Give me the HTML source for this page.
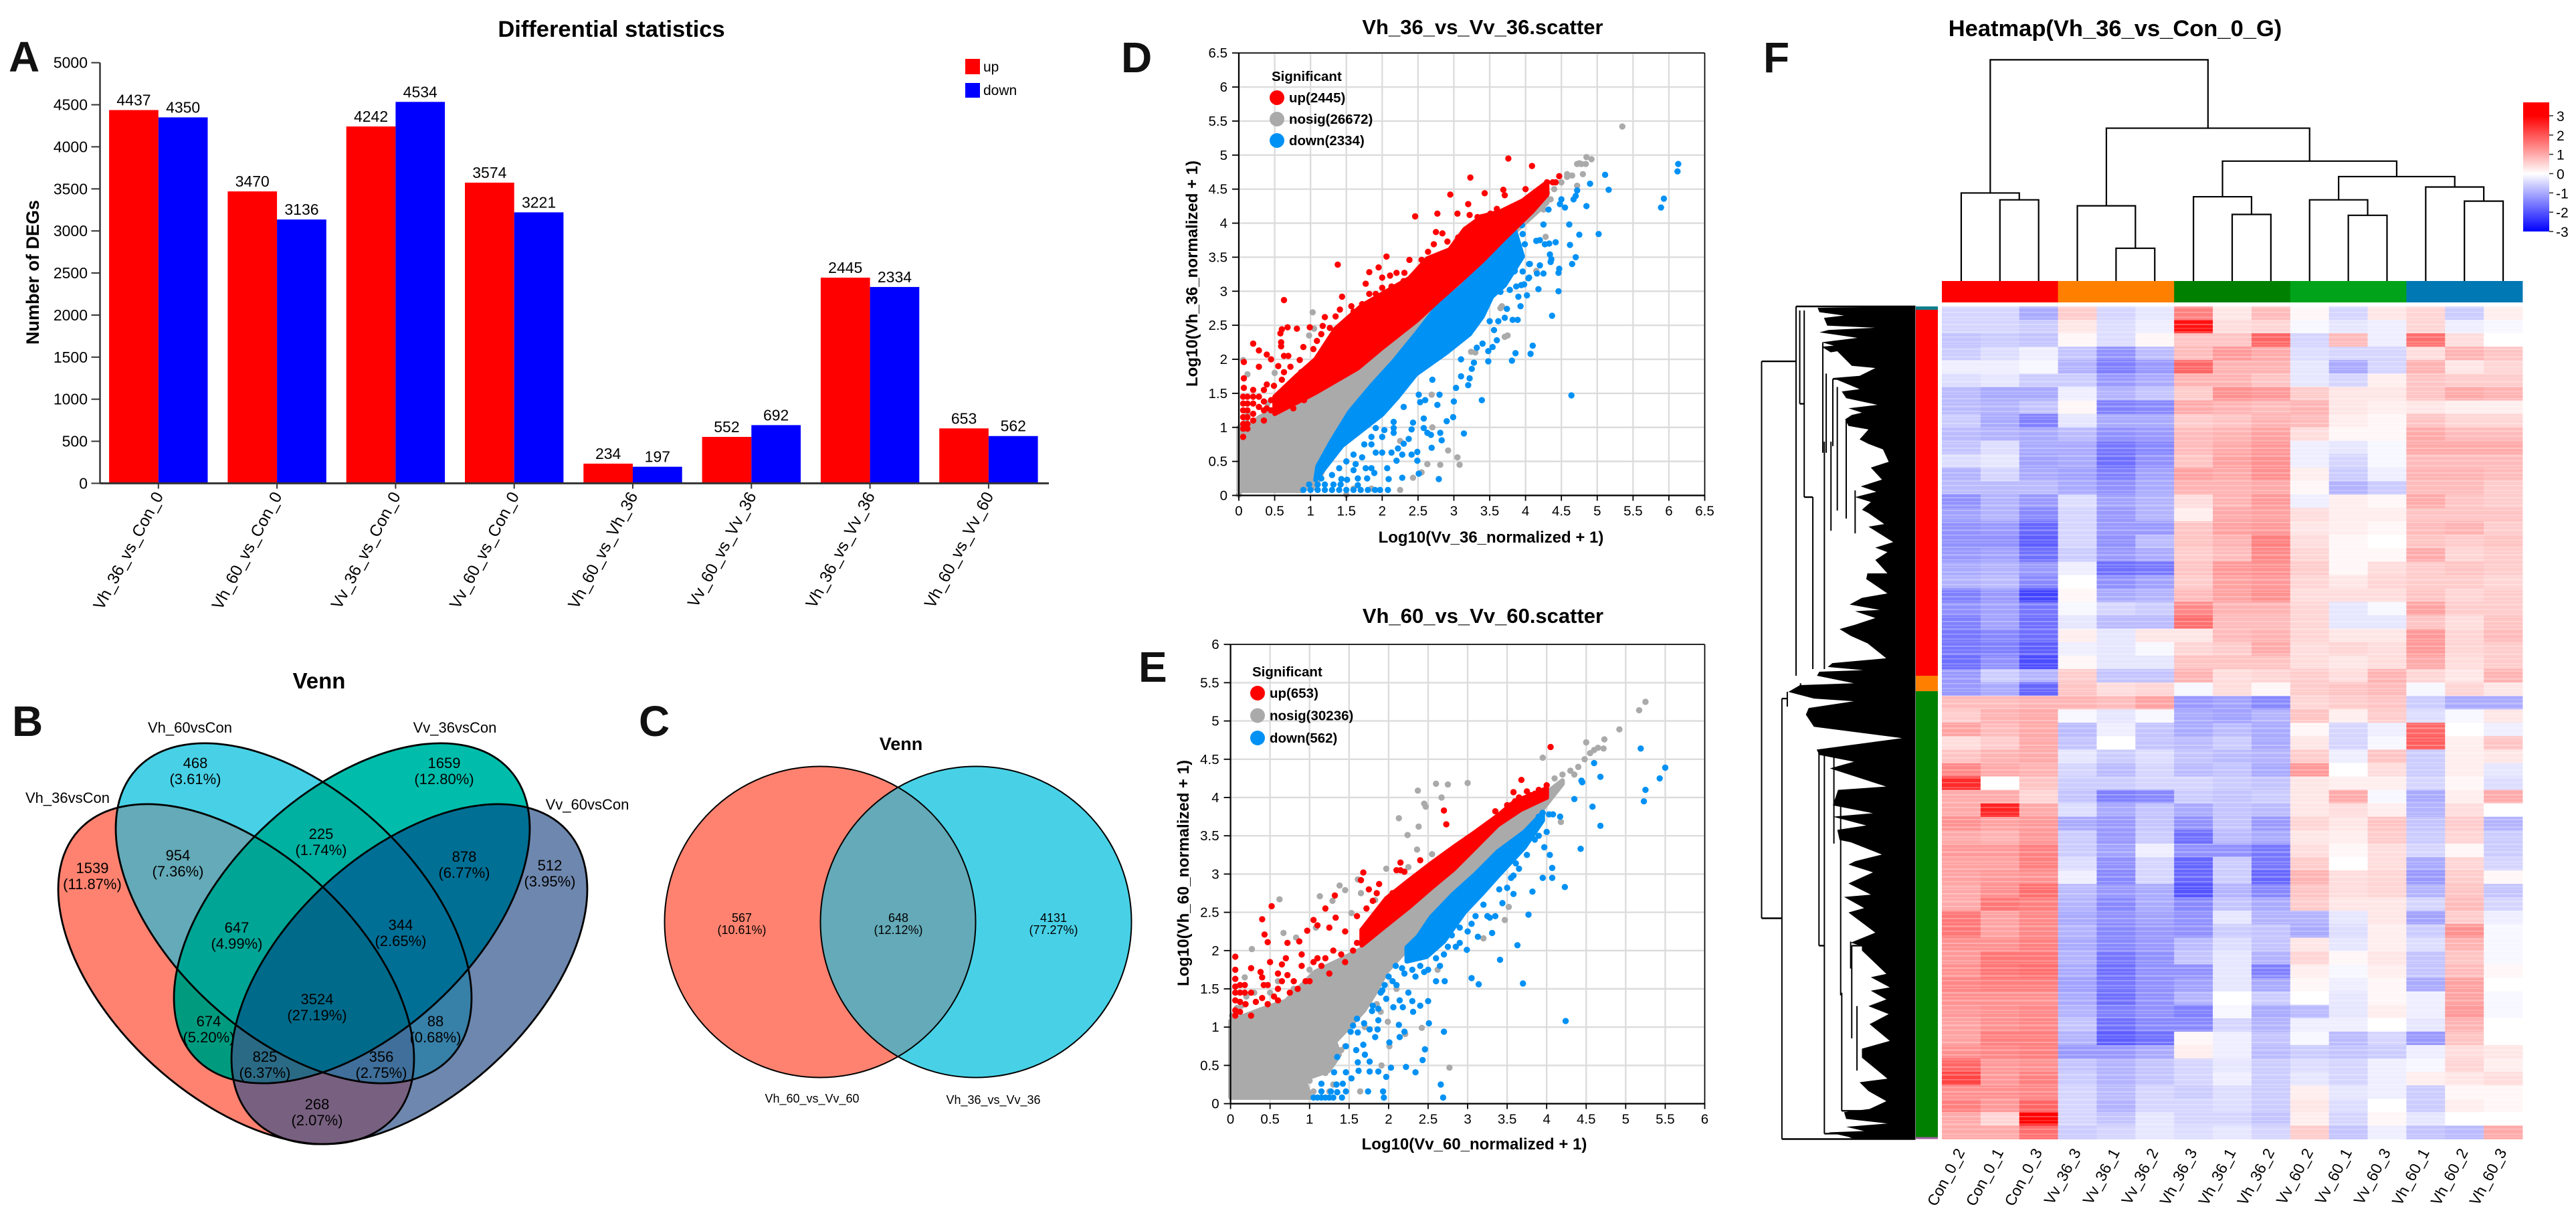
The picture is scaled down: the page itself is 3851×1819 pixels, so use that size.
<!DOCTYPE html>
<html lang="en">
<head>
<meta charset="utf-8">
<title>Differential expression figure</title>
<style>
html,body{margin:0;padding:0;background:#fff;width:3851px;height:1819px;overflow:hidden}
svg{display:block;font-family:"Liberation Sans",sans-serif}
text{fill:#000}
.t22{font-size:22px;text-anchor:middle}
.t18{font-size:18px;text-anchor:middle}
.letter{font-size:64px;font-weight:700;fill:#111}
</style>
</head>
<body>
<svg id="fig" width="3851" height="1819" viewBox="0 0 3851 1819" xmlns="http://www.w3.org/2000/svg">
<defs>
<clipPath id="cA"><ellipse cx="353" cy="1456" rx="318.7" ry="183.6" transform="rotate(42.4 353 1456)"/></clipPath>
<clipPath id="cB"><ellipse cx="439" cy="1365" rx="318.7" ry="183.6" transform="rotate(42.4 439 1365)"/></clipPath>
<clipPath id="cC"><ellipse cx="526" cy="1365" rx="318.7" ry="183.6" transform="rotate(-42.4 526 1365)"/></clipPath>
<clipPath id="cD"><ellipse cx="612" cy="1456" rx="318.7" ry="183.6" transform="rotate(-42.4 612 1456)"/></clipPath>
<clipPath id="cL"><circle cx="1226" cy="1378" r="232.5"/></clipPath>
<ellipse id="eA" cx="353" cy="1456" rx="318.7" ry="183.6" transform="rotate(42.4 353 1456)"/>
<ellipse id="eB" cx="439" cy="1365" rx="318.7" ry="183.6" transform="rotate(42.4 439 1365)"/>
<ellipse id="eC" cx="526" cy="1365" rx="318.7" ry="183.6" transform="rotate(-42.4 526 1365)"/>
<ellipse id="eD" cx="612" cy="1456" rx="318.7" ry="183.6" transform="rotate(-42.4 612 1456)"/>
<linearGradient id="heatGrad" x1="0" y1="0" x2="0" y2="1">
<stop offset="0" stop-color="#ff0000"/><stop offset="0.104" stop-color="#ff0000"/>
<stop offset="0.552" stop-color="#ffffff"/><stop offset="1" stop-color="#0000ff"/>
</linearGradient>
<pattern id="stripes" width="10" height="37" patternUnits="userSpaceOnUse">
<rect x="0" y="3" width="10" height="2" fill="#fff" fill-opacity=".28"/>
<rect x="0" y="9" width="10" height="1.5" fill="#fff" fill-opacity=".2"/>
<rect x="0" y="14" width="10" height="3" fill="#fff" fill-opacity=".24"/>
<rect x="0" y="22" width="10" height="1.5" fill="#fff" fill-opacity=".3"/>
<rect x="0" y="29" width="10" height="2.5" fill="#fff" fill-opacity=".18"/>
<rect x="0" y="34" width="10" height="1" fill="#fff" fill-opacity=".25"/>
</pattern>
</defs>
<rect width="3851" height="1819" fill="#fff"/>

<text class="letter" x="13" y="107">A</text>
<text class="letter" x="18" y="1100">B</text>
<text class="letter" x="955" y="1100">C</text>
<text class="letter" x="1676" y="108">D</text>
<text class="letter" x="1702" y="1019">E</text>
<text class="letter" x="2636" y="108">F</text>

<g id="panelA"></g>

<g id="panelB">
<use href="#eA" fill="#ff8270"/>
<use href="#eB" fill="#48d1e6"/>
<use href="#eC" fill="#00bdab"/>
<use href="#eD" fill="#6e87ae"/>
<g clip-path="url(#cA)"><use href="#eB" fill="#64aab8"/></g>
<g clip-path="url(#cA)"><use href="#eC" fill="#009b7f"/></g>
<g clip-path="url(#cA)"><use href="#eD" fill="#786080"/></g>
<g clip-path="url(#cB)"><use href="#eC" fill="#00b0a0"/></g>
<g clip-path="url(#cB)"><use href="#eD" fill="#3780a8"/></g>
<g clip-path="url(#cC)"><use href="#eD" fill="#006f94"/></g>
<g clip-path="url(#cA)"><g clip-path="url(#cB)"><use href="#eC" fill="#00a595"/></g></g>
<g clip-path="url(#cA)"><g clip-path="url(#cB)"><use href="#eD" fill="#3f6f9a"/></g></g>
<g clip-path="url(#cA)"><g clip-path="url(#cC)"><use href="#eD" fill="#2a6a85"/></g></g>
<g clip-path="url(#cB)"><g clip-path="url(#cC)"><use href="#eD" fill="#006f96"/></g></g>
<g clip-path="url(#cA)"><g clip-path="url(#cB)"><g clip-path="url(#cC)"><use href="#eD" fill="#006a8a"/></g></g></g>
<use href="#eA" fill="none" stroke="#000" stroke-width="2.8"/>
<use href="#eB" fill="none" stroke="#000" stroke-width="2.8"/>
<use href="#eC" fill="none" stroke="#000" stroke-width="2.8"/>
<use href="#eD" fill="none" stroke="#000" stroke-width="2.8"/>
<text x="477" y="1029" font-size="33" font-weight="700" text-anchor="middle">Venn</text>
<g class="t22">
<text class="t22" x="101" y="1200">Vh_36vsCon</text>
<text class="t22" x="284" y="1095">Vh_60vsCon</text>
<text class="t22" x="680" y="1095">Vv_36vsCon</text>
<text class="t22" x="878" y="1210">Vv_60vsCon</text>
<text class="t22" x="138" y="1305">1539</text><text class="t22" x="138" y="1329">(11.87%)</text>
<text class="t22" x="266" y="1286">954</text><text class="t22" x="266" y="1310">(7.36%)</text>
<text class="t22" x="292" y="1148">468</text><text class="t22" x="292" y="1172">(3.61%)</text>
<text class="t22" x="664" y="1148">1659</text><text class="t22" x="664" y="1172">(12.80%)</text>
<text class="t22" x="480" y="1254">225</text><text class="t22" x="480" y="1278">(1.74%)</text>
<text class="t22" x="694" y="1288">878</text><text class="t22" x="694" y="1312">(6.77%)</text>
<text class="t22" x="822" y="1301">512</text><text class="t22" x="822" y="1325">(3.95%)</text>
<text class="t22" x="354" y="1394">647</text><text class="t22" x="354" y="1418">(4.99%)</text>
<text class="t22" x="599" y="1390">344</text><text class="t22" x="599" y="1414">(2.65%)</text>
<text class="t22" x="474" y="1501">3524</text><text class="t22" x="474" y="1525">(27.19%)</text>
<text class="t22" x="312" y="1534">674</text><text class="t22" x="312" y="1558">(5.20%)</text>
<text class="t22" x="651" y="1534">88</text><text class="t22" x="651" y="1558">(0.68%)</text>
<text class="t22" x="396" y="1587">825</text><text class="t22" x="396" y="1611">(6.37%)</text>
<text class="t22" x="570" y="1587">356</text><text class="t22" x="570" y="1611">(2.75%)</text>
<text class="t22" x="474" y="1658">268</text><text class="t22" x="474" y="1682">(2.07%)</text>
</g>
</g>

<g id="panelC">
<circle cx="1226" cy="1378" r="232.5" fill="#ff8270"/>
<circle cx="1459" cy="1378" r="232.5" fill="#48d1e6"/>
<g clip-path="url(#cL)"><circle cx="1459" cy="1378" r="232.5" fill="#64aab8"/></g>
<circle cx="1226" cy="1378" r="232.5" fill="none" stroke="#000" stroke-width="2"/>
<circle cx="1459" cy="1378" r="232.5" fill="none" stroke="#000" stroke-width="2"/>
<text x="1347" y="1121" font-size="27" font-weight="700" text-anchor="middle">Venn</text>
<text class="t18" x="1109" y="1378">567</text><text class="t18" x="1109" y="1396">(10.61%)</text>
<text class="t18" x="1343" y="1378">648</text><text class="t18" x="1343" y="1396">(12.12%)</text>
<text class="t18" x="1575" y="1378">4131</text><text class="t18" x="1575" y="1396">(77.27%)</text>
<text class="t18" x="1214" y="1648">Vh_60_vs_Vv_60</text>
<text class="t18" x="1485" y="1650">Vh_36_vs_Vv_36</text>
</g>

<g id="panelD"></g>
<g id="panelE"></g>
<g id="panelF"></g>
</svg>

<script>
/* ---------- Panel A data ---------- */
const barCategories = ['Vh_36_vs_Con_0','Vh_60_vs_Con_0','Vv_36_vs_Con_0','Vv_60_vs_Con_0','Vh_60_vs_Vh_36','Vv_60_vs_Vv_36','Vh_36_vs_Vv_36','Vh_60_vs_Vv_60'];
const barUp = [4437,3470,4242,3574,234,552,2445,653];
const barDown = [4350,3136,4534,3221,197,692,2334,562];
const barTicks = [0,500,1000,1500,2000,2500,3000,3500,4000,4500,5000];

/* ---------- Scatter shared ticks ---------- */
const ticksD = ['0','0.5','1','1.5','2','2.5','3','3.5','4','4.5','5','5.5','6','6.5'];
const ticksE = ['0','0.5','1','1.5','2','2.5','3','3.5','4','4.5','5','5.5','6'];

/* ---------- Panel D data: dense bands [x,y] and individual points [x,y] ---------- */
const bandGrayTopD = [[0,1.0],[.17,1.05],[.29,1.15],[.48,1.25],[1.07,1.6],[1.66,1.95],[2.0,2.25],[2.47,2.6],[2.78,2.9],[3.09,3.2],[3.4,3.5],[3.71,3.8],[4.09,4.2],[4.3,4.4]];
const bandGrayBotD = [[4.3,4.3],[4.09,4.1],[3.71,3.74],[3.4,3.38],[3.09,3.05],[2.78,2.79],[2.47,2.37],[2.16,1.97],[1.85,1.61],[1.54,1.19],[1.1,.2],[.88,.07],[0,.07]];
const bandUpTopD = [[.5,1.45],[.8,1.75],[1.07,2.0],[1.35,2.45],[1.72,2.79],[2.1,3.02],[2.38,3.19],[2.63,3.48],[2.94,3.61],[3.15,3.91],[3.4,4.1],[3.65,4.17],[3.96,4.33],[4.3,4.6]];
const bandUpBotD = [[4.3,4.42],[4.09,4.17],[3.71,3.78],[3.4,3.45],[3.09,3.15],[2.78,2.86],[2.47,2.56],[2.0,2.17],[1.66,1.87],[1.07,1.51],[.5,1.2]];
const bandDownTopD = [[1.1,.43],[1.29,.79],[1.54,1.22],[1.85,1.61],[2.16,1.97],[2.47,2.37],[2.78,2.79],[3.09,3.05],[3.4,3.38],[3.71,3.74],[3.85,3.9]];
const bandDownBotD = [[3.96,3.51],[3.71,3.09],[3.53,2.92],[3.4,2.63],[3.22,2.37],[2.9,2.1],[2.47,1.78],[2.22,1.45],[2.0,1.19],[1.44,.73],[1.07,.23]];
const pointsGrayD = [[5.35,5.42],[4.85,4.97],[4.92,4.94],[4.78,4.87],[4.72,4.87],[4.75,4.88],[4.84,4.87],[4.58,4.68],[4.5,4.6],[4.58,4.72],[4.65,4.7],[4.72,4.55],[4.8,4.72],[4.4,4.5],[4.3,4.45],[4.2,4.4],[4.25,4.2],[4.35,4.35],[4.28,3.8],[4.15,3.3],[1.03,2.69],[.98,2.35],[1.05,2.45],[3.75,2.35],[3.3,2.1],[3.65,2.75],[3.67,2.78],[3.71,2.33],[3.24,2.11],[2.69,1.48],[2.92,.66],[3.05,.56],[3.08,.45],[2.81,.45],[2.63,.46],[2.55,.34],[2.43,.26],[2.25,.08],[1.5,.01],[0,.01],[2.7,1.0],[2.25,.8],[.06,1.99],[.12,1.78],[.5,1.8],[.06,1.45],[.12,1.2],[.35,1.55],[.4,1.35],[1.6,.1],[1.85,.1],[1.05,.12],[.1,1.1]];
const pointsUpD = [[3.76,4.95],[4.09,4.84],[3.23,4.67],[4.47,4.69],[3.43,4.44],[2.95,4.42],[3.69,4.49],[3.71,4.41],[4.0,4.5],[3.2,4.28],[3.05,4.14],[2.77,4.14],[2.46,4.1],[4.3,4.6],[4.38,4.6],[4.42,4.6],[2.75,3.87],[2.84,3.85],[2.06,3.51],[1.95,3.35],[1.38,3.39],[1.82,3.28],[2.0,3.2],[2.11,3.23],[2.2,3.27],[2.38,3.46],[2.55,3.46],[2.64,3.58],[2.72,3.69],[2.91,3.73],[2.98,3.64],[3.06,3.79],[3.17,3.91],[3.22,4.12],[3.33,4.09],[3.39,4.09],[3.51,4.14],[3.6,4.21],[3.76,4.2],[3.85,4.22],[1.77,3.11],[1.44,2.92],[.63,2.87],[1.2,2.62],[1.35,2.63],[1.41,2.73],[1.57,2.78],[1.68,2.74],[1.72,2.81],[1.82,2.96],[1.91,2.96],[2.02,2.96],[2.13,3.07],[2.31,3.27],[.99,2.47],[.6,2.44],[.68,2.47],[.81,2.45],[.58,2.38],[1.17,2.49],[1.27,2.46],[1.15,2.37],[1.09,2.27],[1.04,2.15],[.2,2.23],[.28,2.13],[.39,2.07],[.45,2.0],[.59,2.25],[.59,2.19],[.9,2.18],[.63,2.05],[.69,2.05],[.85,1.99],[.55,1.9],[.72,1.89],[.87,1.81],[.28,1.89],[.07,1.96],[.07,1.72],[.07,1.58],[.06,1.45],[.06,1.35],[.06,1.25],[.06,1.15],[.06,1.05],[.06,.98],[.06,.86],[.12,1.45],[.12,1.35],[.12,1.25],[.12,1.15],[.12,1.05],[.12,.98],[.2,1.55],[.2,1.45],[.2,1.35],[.2,1.2],[.2,1.1],[.28,1.45],[.28,1.3],[.35,1.55],[.35,1.38],[.35,1.25],[.35,1.1],[.39,1.63],[.39,1.28],[.45,1.4],[.45,1.25],[.49,1.61],[.56,1.45],[.6,1.7],[.6,1.28],[.63,1.81],[.7,1.55],[.73,1.45],[.76,1.68],[.76,1.28],[.91,1.74],[.91,1.4],[1.0,1.85],[1.07,1.82],[1.1,1.9],[1.25,2.2],[1.45,2.45],[1.6,2.7],[1.8,2.8],[2.0,3.05],[2.3,3.15],[2.55,3.35]];
const pointsDownD = [[6.13,4.87],[6.12,4.76],[5.93,4.36],[5.89,4.23],[5.11,4.71],[5.16,4.49],[4.9,4.58],[4.72,4.48],[4.85,4.25],[4.5,4.35],[4.48,4.28],[4.55,4.23],[4.67,4.35],[4.7,4.4],[4.32,4.2],[4.61,3.98],[4.25,3.98],[3.95,3.97],[5.02,3.84],[4.75,3.83],[3.96,3.84],[4.2,3.75],[4.15,3.74],[4.27,3.69],[4.33,3.7],[4.42,3.72],[4.62,3.68],[4.7,3.5],[4.65,3.4],[4.47,3.33],[4.46,3.27],[4.34,3.54],[4.36,3.47],[4.35,3.43],[4.05,3.4],[4.2,3.38],[4.16,3.26],[4.25,3.26],[4.46,3.0],[4.18,3.03],[4.05,3.2],[3.98,3.1],[4.02,2.94],[3.93,2.78],[4.37,2.64],[3.89,2.58],[3.82,2.58],[3.71,2.61],[3.74,2.74],[3.62,2.56],[3.56,2.43],[3.5,2.56],[3.9,2.92],[3.94,3.09],[3.87,3.07],[3.78,3.02],[3.65,2.99],[4.04,3.19],[3.96,3.29],[3.84,3.29],[4.06,3.4],[3.99,3.69],[3.96,3.84],[3.85,3.3],[4.64,1.47],[4.1,2.2],[4.07,2.08],[3.86,2.09],[3.81,1.98],[3.54,2.18],[3.6,2.28],[3.4,2.23],[3.32,2.17],[3.48,2.12],[3.48,1.97],[3.28,1.95],[3.25,1.86],[3.22,1.72],[3.2,1.62],[3.03,1.58],[3.39,1.4],[3.14,.91],[2.99,1.15],[2.9,1.09],[3.0,1.38],[2.77,1.33],[2.8,1.48],[2.53,1.37],[2.51,1.48],[2.58,1.13],[2.43,1.07],[2.41,.97],[2.58,.99],[2.63,.92],[2.68,.89],[2.81,.92],[2.83,.81],[2.69,.7],[2.49,.64],[2.41,.6],[2.49,.51],[2.37,.83],[2.3,.76],[2.28,.6],[2.2,.51],[2.13,.63],[2.22,.69],[2.07,.4],[1.85,.4],[1.89,.33],[1.77,.4],[2.09,.24],[2.28,.26],[2.51,.32],[2.79,.24],[2.08,.08],[2.16,.99],[2.16,1.08],[2.03,.96],[2.0,.86],[2.16,.92],[1.91,.99],[1.85,.86],[2.0,.63],[1.91,.63],[1.72,.56],[1.63,.46],[1.6,.37],[1.51,.23],[1.66,.25],[1.79,.25],[1.43,.24],[1.66,.15],[.9,.08],[1.0,.08],[1.1,.08],[1.2,.08],[1.3,.08],[1.4,.08],[1.5,.08],[1.6,.08],[1.7,.08],[1.8,.08],[1.9,.08],[1.97,.08],[.98,.16],[1.1,.16],[1.2,.16],[1.32,.16],[1.42,.16],[1.15,.25],[1.3,.3],[1.4,.4],[1.5,.5],[1.6,.6],[1.75,.75],[1.85,.75],[2.3,1.3],[2.6,1.4],[2.7,1.7],[3.1,1.75],[3.1,2.0]];

/* ---------- Panel E data ---------- */
const bandGrayTopE = [[0,1.08],[.36,1.22],[.7,1.34],[1.07,1.72],[1.41,1.89],[1.69,2.04],[1.97,2.36],[2.25,2.59],[2.54,2.85],[2.82,3.08],[3.1,3.38],[3.38,3.67],[3.72,3.84],[4.2,4.22]];
const bandGrayBotE = [[4.2,4.18],[3.72,3.55],[3.38,3.29],[3.1,3.0],[2.82,2.74],[2.54,2.44],[2.37,2.18],[2.2,1.98],[1.97,1.72],[1.83,1.45],[1.69,1.22],[1.46,.96],[1.32,.81],[1.38,.64],[1.24,.43],[.93,.32],[1.01,.08],[0,.08]];
const bandUpTopE = [[1.66,2.27],[1.97,2.68],[2.25,2.91],[2.54,3.14],[2.82,3.35],[3.1,3.55],[3.38,3.76],[3.6,3.95],[3.85,4.05],[4.0,4.12]];
const bandUpBotE = [[4.0,4.0],[3.67,3.84],[3.38,3.64],[3.1,3.35],[2.82,3.06],[2.54,2.82],[2.25,2.56],[1.97,2.33],[1.66,2.07]];
const bandDownTopE = [[2.23,2.04],[2.37,2.18],[2.54,2.44],[2.82,2.74],[3.1,3.0],[3.38,3.29],[3.72,3.55],[3.95,3.8]];
const bandDownBotE = [[3.95,3.7],[3.72,3.35],[3.38,2.97],[3.18,2.74],[2.96,2.5],[2.7,2.12],[2.48,1.92],[2.23,1.86]];
const pointsGrayE = [[5.25,5.25],[5.17,5.14],[4.92,4.89],[4.5,4.72],[4.73,4.76],[4.72,4.64],[4.65,4.65],[4.6,4.62],[4.55,4.58],[4.48,4.5],[4.4,4.4],[4.3,4.35],[4.2,4.3],[4.1,4.25],[4.35,4.3],[3.95,4.52],[2.37,4.09],[2.6,4.18],[2.75,4.17],[3.0,4.19],[2.67,4.0],[2.45,3.92],[2.47,3.88],[2.13,3.73],[2.38,3.62],[2.24,3.51],[2.36,3.32],[2.55,3.26],[1.97,3.07],[2.25,3.09],[2.45,3.01],[1.61,2.93],[1.38,2.85],[1.45,2.79],[1.65,2.75],[1.13,2.71],[1.29,2.65],[.62,2.67],[1.83,2.66],[1.53,2.49],[.67,2.23],[.27,2.02],[1.08,2.3],[.83,2.17],[3.52,2.57],[3.47,2.4],[3.2,2.16],[2.62,1.75],[2.42,.99],[1.99,1.07],[2.21,.91],[2.01,.75],[1.91,.5],[2.77,.47],[1.64,.16],[4.18,3.68],[.02,1.15],[.08,1.25],[.2,1.4],[.14,1.28],[.3,1.45],[.18,1.65],[.5,1.45],[.6,1.6],[.8,1.5],[1.0,1.75],[.93,.35],[1.04,.37],[1.0,.3],[1.2,.4],[1.15,.55],[1.25,.5],[1.4,.7],[1.45,.75],[1.7,1.0],[1.85,1.3],[1.3,.25],[1.25,.16],[1.05,.16],[1.9,1.2],[2.1,1.5]];
const pointsUpE = [[4.05,4.66],[3.68,4.23],[3.58,4.07],[3.9,4.1],[4.0,4.16],[3.75,4.08],[3.8,4.03],[3.65,4.0],[3.85,4.05],[3.6,3.95],[3.55,3.9],[3.5,3.9],[3.35,3.82],[3.48,3.8],[2.7,3.83],[2.73,3.65],[1.68,3.02],[1.65,2.92],[2.15,3.15],[2.2,3.03],[2.1,3.05],[2.15,3.05],[2.4,3.18],[1.88,2.87],[1.75,2.8],[1.85,2.75],[1.32,2.72],[1.2,2.55],[.52,2.58],[.4,2.41],[1.05,2.4],[1.33,2.43],[.43,2.21],[.47,2.11],[.72,2.1],[.87,2.12],[.97,2.26],[1.1,2.33],[1.25,2.3],[1.45,2.25],[1.6,2.45],[1.72,2.55],[1.8,2.65],[.06,1.92],[.06,1.75],[.06,1.63],[.06,1.53],[.06,1.45],[.06,1.35],[.06,1.22],[.06,1.15],[.12,1.55],[.12,1.45],[.12,1.33],[.12,1.2],[.18,1.55],[.18,1.45],[.19,1.3],[.26,1.77],[.26,1.45],[.26,1.15],[.32,1.33],[.38,1.72],[.4,1.65],[.4,1.38],[.42,1.55],[.47,1.55],[.47,1.3],[.5,1.85],[.55,1.4],[.6,1.7],[.6,1.5],[.6,1.35],[.65,1.6],[.65,1.82],[.7,1.9],[.72,1.68],[.75,1.45],[.8,1.6],[.85,1.5],[.9,1.8],[.9,1.95],[.95,1.6],[1.0,1.6],[1.05,1.85],[1.1,1.9],[1.15,1.8],[1.2,1.9],[1.25,1.7],[1.3,2.0],[1.4,1.95],[1.45,1.85],[1.55,2.0],[1.6,2.1],[1.7,2.2],[1.8,2.3],[2.0,2.6],[2.05,2.75],[2.3,2.9],[2.6,3.1],[2.55,3.0],[3.1,3.5],[2.9,3.3]];
const pointsDownE = [[5.5,4.39],[5.43,4.25],[5.25,4.1],[5.23,3.95],[5.19,4.64],[4.6,4.45],[4.68,4.27],[4.44,4.22],[4.45,4.2],[4.35,3.98],[4.58,3.88],[4.68,3.63],[4.43,3.33],[4.23,2.83],[4.24,1.08],[3.7,1.57],[3.63,2.07],[3.41,1.88],[3.05,1.64],[3.14,1.56],[3.77,2.47],[3.82,2.77],[3.95,2.95],[4.07,2.95],[4.07,3.08],[4.04,3.25],[3.97,3.35],[4.0,3.55],[3.9,3.5],[4.17,3.75],[4.08,3.78],[4.03,3.78],[3.95,3.8],[3.9,3.75],[3.85,3.45],[3.75,3.25],[3.65,3.07],[3.58,2.98],[3.61,3.14],[3.58,2.74],[3.5,2.82],[3.44,2.62],[3.28,2.43],[3.31,2.23],[3.13,2.18],[2.99,2.01],[2.9,2.1],[3.35,2.45],[3.25,2.45],[3.1,2.45],[3.0,2.25],[2.85,2.05],[2.75,2.05],[2.7,1.95],[2.71,1.6],[2.65,1.8],[2.6,1.6],[2.5,1.75],[2.45,1.72],[2.34,1.66],[2.17,1.77],[2.09,1.8],[2.0,1.66],[1.92,1.48],[1.97,1.37],[2.14,1.35],[2.25,1.45],[2.3,1.34],[2.4,1.28],[2.31,1.2],[2.5,1.34],[2.18,1.26],[2.06,1.26],[1.79,1.21],[1.8,1.28],[1.87,1.24],[2.7,.94],[2.51,1.05],[2.2,.94],[2.13,1.03],[2.14,.87],[2.01,.8],[2.46,.71],[2.43,.57],[2.22,.48],[2.03,.47],[2.34,.41],[1.97,.35],[1.87,.42],[1.76,.42],[1.62,.43],[1.53,.33],[1.46,.41],[1.42,.26],[1.34,.25],[1.15,.26],[2.66,.25],[2.69,.08],[1.94,.08],[1.93,.16],[1.74,.16],[1.46,.16],[1.41,.08],[1.27,.16],[1.31,.41],[1.35,.61],[1.61,.54],[1.76,.55],[1.7,.64],[1.59,.7],[1.68,.77],[1.46,.75],[1.61,.93],[1.52,.94],[1.6,1.11],[1.55,1.02],[1.69,1.05],[1.76,.97],[1.86,.97],[1.87,1.09],[1.83,.87],[1.3,.08],[1.25,.08],[1.2,.08],[1.15,.08],[1.1,.08],[1.05,.08],[1.35,.15],[1.15,.16],[1.9,1.45],[1.95,1.55],[2.05,1.6],[2.1,1.55],[2.2,1.7],[2.3,1.75],[2.4,1.8],[2.6,1.9],[2.8,2.2],[2.9,2.3],[3.05,2.35],[3.2,2.6],[3.4,2.8],[3.55,2.95]];

/* ---------- Panel F data ---------- */
const heatColumns = ['Con_0_2','Con_0_1','Con_0_3','Vv_36_3','Vv_36_1','Vv_36_2','Vh_36_3','Vh_36_1','Vh_36_2','Vv_60_2','Vv_60_1','Vv_60_3','Vh_60_1','Vh_60_2','Vh_60_3'];
const heatRows = [
[-.5,-.5,-1,.6,-.5,-.3,1.5,.3,.8,.1,-.5,.3,.5,-.6,.2],
[-.5,-.5,-.6,.3,-.4,-.2,2.8,.4,.5,-.1,-.3,-.2,.5,-.2,-.1],
[-.7,-.6,-.7,.1,-.4,.1,.7,.7,1.8,-.5,.8,-.2,1.7,.4,0],
[-.6,-.4,-.2,-.7,-1.3,-.8,.8,1.2,1,-.4,-.5,-.5,.4,.9,.7],
[-.2,-.2,-.1,-.9,-1.5,-1.2,1.8,.9,.9,-.3,-1,-.5,.9,.3,.5],
[-.4,-.3,-.6,-.6,-1.2,-1,.9,.9,.7,-.3,-.5,.2,.7,.6,.6],
[-.8,-1,-1,-.2,-.9,-.7,.6,1.3,1.2,.6,.3,.3,.7,1,.9],
[-.8,-.9,-.7,.1,-1.5,-1.4,1,.9,.8,.9,.3,.2,.3,.2,.2],
[-.6,-1,-1.5,-.3,-1,-1,.6,.7,.9,.8,.2,.1,.7,.5,.5],
[-.8,-.9,-1,-.8,-1.3,-1.2,.8,.9,1.1,.4,.1,.1,1,.8,.8],
[-.7,-.4,-1,-1,-1.6,-1.4,.8,1,1.2,-.2,-.3,-.1,1,1,1],
[-.4,-.3,-1.1,-1,-1.7,-1.3,.7,1.1,1.3,-.2,-.5,-.1,.8,.8,.8],
[-.9,-.5,-1,-1.1,-1.5,-1.1,1.1,1,1.3,.2,-.6,-.2,.9,.9,.8],
[-.8,-.8,-.8,-1,-1.3,-1,.9,.9,1,.1,-.9,-.6,.8,.8,.6],
[-1.3,-.9,-1.2,-.4,-1.1,-.9,.4,.9,1.2,-.2,.2,.1,1,.7,.6],
[-1.1,-.9,-1.4,-.5,-1.2,-.9,.2,1,1.1,.4,.2,.2,.7,.7,.7],
[-1.3,-1.2,-1.8,-.5,-1.2,-1.2,.7,1.1,1.2,.3,.2,.1,.8,.9,.6],
[-1.3,-1.3,-1.9,-.5,-1.3,-.8,.7,.9,1.5,.4,.1,0,.7,.6,.7],
[-1.2,-1.1,-1.7,-.6,-1.2,-1,.6,.8,1.4,.5,.1,.1,1,.5,.6],
[-1,-.9,-1.2,-.2,-1.7,-1.6,.7,1.2,1.3,.6,.1,.4,.6,.7,.6],
[-.9,-.8,-1.4,0,-1.3,-1.1,.6,1.1,1.2,.5,.3,.5,.6,.6,.5],
[-1.5,-1.2,-2.2,.1,-1,-.9,.8,1.1,1.3,.4,.4,.4,.7,.5,.6],
[-1.3,-1.1,-1.6,-.1,-.5,-.6,1.4,.9,.9,.5,-.3,-.1,1.1,.6,.6],
[-1.5,-1.1,-1.7,-.3,-.8,-.8,1.7,.8,.8,.5,-.3,-.3,.7,.4,.7],
[-1.6,-1.4,-1.7,.2,-.3,.3,.3,.8,.9,.5,.3,.3,1.2,.5,.8],
[-1.6,-1.5,-1.9,-.2,-.3,-.1,.5,.6,1,.4,.5,.4,1.2,.5,.6],
[-1.7,-1.3,-2.1,.1,-.3,-.3,.7,.7,.7,.4,.3,.4,1,.4,.6],
[-1.2,-.6,-.9,.6,-.7,-.7,.9,.4,.5,.6,.4,.9,.5,.3,.9],
[-1.2,-1,-1.8,.7,.4,.5,-.1,.4,.1,.6,.7,.8,-.1,.5,.3],
[.8,.8,.9,.9,.8,1.1,-1.2,-1.1,-1.4,.5,.6,.7,-.6,-1,-1],
[.6,.9,1,-.1,-.3,-.1,-1,-1.1,-.9,.7,.2,.6,-.4,-.1,.3],
[1.1,.8,1,-.8,-.2,-.7,-1,-.8,-1,.1,-.5,-.2,1.8,0,-.2],
[.4,.6,1,-.7,0,-.7,-.8,-.6,-1,.3,-.5,-.1,1.9,.2,.7],
[.7,.9,1,-.3,-.6,-.4,-.7,-.8,-.9,.6,-.2,.7,-.6,.2,.3],
[1.4,1,.9,-.5,-.8,-.5,-.8,-.7,-1,1.2,0,.4,-.6,.2,-.3],
[2.5,0,.7,-.6,-.6,-.5,-.5,-.6,-.7,.3,.2,.2,-.5,.1,-.4],
[1,1,.5,-.7,-1.5,-1.4,-.6,-.7,-.6,.3,1,-.1,-1,.2,1],
[1,2.6,1,-.4,-1,-.7,-1,-.7,-.8,.3,.4,.2,-.9,.4,0],
[1.3,1.1,1.2,-1,-1.2,-.7,-1.3,-.7,-1.2,.5,.3,.7,-.7,.6,-.9],
[1,.9,1.2,-.6,-1.2,-.6,-1.7,-.8,-1,.3,.2,.6,-.6,.5,-.6],
[1.2,1.2,1.5,-.6,-1.1,-.2,-1.3,-1.3,-1.6,.4,.1,.4,-.5,.1,-.6],
[1.1,1.1,1.5,-.4,-1.3,-.5,-1.8,-.6,-1.6,.6,0,.4,-1,.5,-.5],
[1.1,1.2,1.3,-.2,-1.4,-.5,-1.8,-.6,-1.8,.9,.4,.5,-1.2,.6,.1],
[1,1.3,1.7,-.8,-1.2,-1,-2,-.9,-1.4,.7,.4,.5,-.9,.7,-.7],
[1,1.6,1.5,-.9,-1.4,-1,-1.4,-.7,-1,.6,.3,.3,-.5,.8,-.5],
[1.6,1.1,1.4,-1,-1.3,-1.1,-1.3,-.3,-.9,-.9,-.3,.3,-1.1,.6,-.2],
[1.6,1.1,1.4,-.9,-1.4,-1.2,-1.3,-.6,-.7,-1,-.4,.2,-.6,1.3,-.1],
[1.3,1.3,1.5,-1,-1.4,-1.2,-.8,-.4,-.7,.3,-.3,.2,-.4,.9,-.1],
[1.2,1.6,1.6,-.9,-1.6,-1.3,-.7,-.3,-.9,.5,.1,.3,-.7,.7,-.1],
[1.3,1.6,1.7,-1,-1.7,-1.3,-1.3,-.3,-1.5,.2,-.1,.2,-.7,.8,.1],
[1.4,1.5,1.5,-1.1,-1.6,-1.3,-1.1,-.3,-1,.1,-.2,.1,-1,1.1,0],
[1.3,1.3,1.3,-1,-1.7,-1.3,-.9,0,-.6,0,-.3,.1,-.2,1.1,-.1],
[1.2,1.3,1.4,-.9,-1.5,-1.3,-1.5,-.1,-1,-.8,-.3,.2,-.2,1.2,-.1],
[1.1,1.3,1.4,-.7,-1.7,-1.4,-1.4,-.5,-.9,-.2,-.2,0,-.3,.9,0],
[1.1,1.5,1.5,-.9,-1.9,-1.7,.1,-.2,-.7,-.1,-.8,-.5,-1.2,.7,0],
[1.3,1.4,1.5,-1.2,-1.2,-1,.2,-.2,-.8,-.6,-.7,-.6,-.2,.4,.3],
[1.8,1.2,1.3,-.7,-.9,-.7,-.5,-.3,-.6,-.4,-.5,-.2,-.1,.5,.2],
[2.2,1.2,1.5,-.6,-.9,-.7,-.5,-.2,-.6,-.3,-.5,-.2,.2,.3,.4],
[1.3,1.3,1.4,-.5,-.8,-.5,-.6,-.4,-.6,.2,-.3,-.2,-.6,.1,.1],
[1.5,1.2,1.8,-.5,-.9,-.5,-.5,-.4,-.6,.3,-.4,0,-.6,.2,.1],
[1,.5,3,-.5,-.7,-.3,-.5,-.5,-.7,.2,-.5,.1,-.3,0,0],
[1,1,1.7,-.6,-.5,-.3,-.4,-.3,-.5,.6,-.7,-.2,-.7,-.8,1]
];
const legendTicks = [3,2,1,0,-1,-2,-3];
/* column tree: [childA, childB, height]; ids 0-14 are leaves, ids from 15 are earlier merges */
const columnMerges = [[1,2,.367],[0,15,.398],[4,5,.148],[3,17,.34],[7,8,.301],[6,19,.381],[10,11,.297],[9,21,.367],[13,14,.361],[12,23,.425],[22,24,.472],[20,25,.542],[18,26,.691],[16,27,1]];
const columnGroups = [['con-0','#ff0000'],['vv-36','#ff8000'],['vh-36','#008000'],['vv-60','#00a319'],['vh-60','#0078b4']];
/* row clusters: [first row, last row, colour] in heat-row units */
const rowClusters = [[0,.25,'#0f7f8c'],[.25,27.5,'#ff0000'],[27.5,28.65,'#ff8000'],[28.65,62,'#008000'],[61.85,62,'#a060a0']];
/* row tree silhouette: [depth 0-1, heat-row position] */
const rowTreeEdge = [[.364,.1],[.376,.43],[.536,.68],[.405,.85],[.427,1.43],[.739,1.59],[.434,1.76],[.376,1.93],[.623,2.34],[.39,2.67],[.47,2.92],[.39,3],[.449,3.42],[.492,3.34],[.586,4.42],[.739,4.59],[.637,5.17],[.463,5.33],[.637,6.16],[.521,6.33],[.55,6.83],[.753,7.33],[.565,7.58],[.652,7.91],[.586,8.08],[.543,8.41],[.565,8.9],[.695,9.16],[.637,9.9],[.695,10.24],[.789,10.65],[.826,11.57],[.71,12],[.782,12.9],[.644,13.4],[.746,13.8],[.608,14.2],[.71,14.56],[.652,15.14],[.695,15.39],[.797,16.2],[.695,16.4],[.855,17.55],[.739,17.96],[.818,18.3],[.739,18.88],[.818,19.88],[.688,19.88],[.68,20.3],[.818,21.37],[.652,21.7],[.572,22.2],[.768,22.6],[.608,22.7],[.739,23.2],[.608,23.7],[.507,24.03],[.579,24.53],[.69,25.1],[.81,26.2],[.46,26.56],[.43,26.85],[.66,27.08],[.375,27.2],[.36,27.5],[.6,28.06],[.25,28.2],[.174,28.7],[.34,29.2],[.6,29.4],[.306,29.9],[.288,30.4],[.34,31.3],[.913,32.15],[.358,33],[.375,33.4],[.6,33.9],[.444,34.4],[.809,35.75],[.497,36],[.463,37.15],[.724,37.74],[.463,37.99],[.68,38.65],[.492,38.98],[.507,39.73],[.579,39.9],[.782,40.81],[.608,41.31],[.565,41.56],[.724,42.14],[.565,42.97],[.71,43.8],[.536,43.97],[.666,44.8],[.565,45.13],[.739,46.63],[.579,47.38],[.652,47.63],[.652,47.96],[.811,49.7],[.71,49.95],[.833,50.7],[.71,50.95],[.811,51.6],[.695,52.1],[.826,52.7],[.702,53.44],[.833,54.69],[.652,55.27],[.652,55.94],[.818,57.5],[.637,57.77],[.695,58.43],[.811,59.18],[.702,59.76],[.536,60],[.55,60.5],[.818,60.84],[.55,61.09],[.666,61.4],[.434,61.5],[.565,61.84],[.6,62]];
/* row tree branches: vertical [depth,row1,row2] and horizontal [depth1,depth2,row] */
const rowTreeVert = [[0,4.09,45.56],[.224,0,27.5],[.248,.3,7.25],[.277,.3,14.2],[.333,14.2,27],[.398,2.7,10.9],[.42,5,10.9],[.408,10.07,27],[.451,10.07,16.7],[.463,5.4,10.4],[.492,6,15.2],[.55,8.4,15.8],[.608,13.7,16.9],[.132,29.2,62],[.167,28.7,29.8],[.253,28.06,28.6],[.373,33,47.6],[.408,33,61.6],[.47,33,40],[.514,36,51.3],[.521,51.1,59.9],[.579,47.3,49.3],[.586,47.6,54.5],[.62,52.1,56.9]];
const rowTreeHoriz = [[.224,1,0],[0,.224,4.09],[0,.132,45.56],[.277,.333,14.2],[.248,.277,7.25],[.132,.167,29.2],[.132,1,62],[.408,.6,61.6],[.373,.408,47.6],[.521,.7,59.9],[.463,.6,5.4],[.586,.7,47.6]];

/* ---------- Helpers ---------- */
const NS = 'http://www.w3.org/2000/svg';
function mk(parent, tag, attrs, txt) {
  const el = document.createElementNS(NS, tag);
  for (const k in attrs) el.setAttribute(k, attrs[k]);
  if (txt !== undefined) el.textContent = txt;
  parent.appendChild(el);
  return el;
}

/* ---------- Panel A ---------- */
function drawBars() {
  const g = document.getElementById('panelA');
  const x0 = 149.5, xEnd = 1568, y0 = 722.4, yTop = 93.7;
  const yS = v => y0 - v * (y0 - yTop) / 5000;
  const xC = i => 236.8 + i * 177.3;
  const bw = 73.7;

  const title = mk(g, 'text', {x: 914, y: 55, 'font-size': 34.5, 'font-weight': 700, 'text-anchor': 'middle'}, 'Differential statistics');
  
  

  const yTitle = mk(g, 'text', {transform: 'translate(58 407) rotate(-90)', 'font-size': 27, 'font-weight': 700, 'text-anchor': 'middle'}, 'Number of DEGs');
  
  

  barCategories.forEach((cat, i) => {
    const r1 = mk(g, 'rect', {x: xC(i) - bw, y: yS(barUp[i]), width: bw, height: y0 - yS(barUp[i]), fill: '#ff0000'});
    
    
    const r2 = mk(g, 'rect', {x: xC(i), y: yS(barDown[i]), width: bw, height: y0 - yS(barDown[i]), fill: '#0000ff'});
    
    
    const t1 = mk(g, 'text', {x: xC(i) - bw / 2, y: yS(barUp[i]) - 7, 'font-size': 23, 'text-anchor': 'middle'}, String(barUp[i]));
    
    
    const t2 = mk(g, 'text', {x: xC(i) + bw / 2, y: yS(barDown[i]) - 7, 'font-size': 23, 'text-anchor': 'middle'}, String(barDown[i]));
    
    
    const tk = mk(g, 'line', {x1: xC(i), x2: xC(i), y1: y0, y2: y0 + 8, stroke: '#333', 'stroke-width': 2});
    
    
    const lb = mk(g, 'text', {transform: 'translate(' + (xC(i) + 8) + ' 741) rotate(-62)', 'font-size': 24.5, 'text-anchor': 'end'}, cat);
    
    
  });

  barTicks.forEach(v => {
    const tk = mk(g, 'line', {x1: x0 - 13, x2: x0, y1: yS(v), y2: yS(v), stroke: '#333', 'stroke-width': 2});
    
    
    const lb = mk(g, 'text', {x: 131, y: yS(v) + 8, 'font-size': 23, 'text-anchor': 'end'}, String(v));
    
    
  });

  const ya = mk(g, 'line', {x1: x0, x2: x0, y1: yTop, y2: y0, stroke: '#333', 'stroke-width': 2.5});
  
  
  const xa = mk(g, 'line', {x1: x0, x2: xEnd, y1: y0, y2: y0, stroke: '#333', 'stroke-width': 3});
  
  

  const l1 = mk(g, 'rect', {x: 1443, y: 88, width: 22, height: 23, fill: '#ff0000'});
  
  
  const l2 = mk(g, 'rect', {x: 1443, y: 124, width: 22, height: 22, fill: '#0000ff'});
  
  
  const l3 = mk(g, 'text', {x: 1470, y: 107, 'font-size': 21}, 'up');
  
  
  const l4 = mk(g, 'text', {x: 1470, y: 142, 'font-size': 21}, 'down');
  
  
}

/* ---------- Panels D & E ---------- */
function drawScatter(g, c) {
  const xS = v => c.x0 + v * (c.x1 - c.x0) / c.max;
  const yS = v => c.y0 - v * (c.y0 - c.y1) / c.max;
  const pts = arr => arr.map(p => xS(p[0]).toFixed(1) + ',' + yS(p[1]).toFixed(1)).join(' ');

  c.ticks.forEach(lbl => {
    const v = parseFloat(lbl);
    const gv = mk(g, 'line', {x1: xS(v), x2: xS(v), y1: c.y1, y2: c.y0, stroke: '#dcdcdc', 'stroke-width': 2.4});
    
    
    const gh = mk(g, 'line', {x1: c.x0, x2: c.x1, y1: yS(v), y2: yS(v), stroke: '#dcdcdc', 'stroke-width': 2.4});
    
    
  });

  const dots = (arr, col, name) => arr.forEach(p => {
    const d = mk(g, 'circle', {cx: xS(p[0]), cy: yS(p[1]), r: 4.7, fill: col});
    
    
  });
  const band = (top, bot, col, name) => {
    const b = mk(g, 'polygon', {points: pts(top.concat(bot)), fill: col, stroke: col, 'stroke-width': 7, 'stroke-linejoin': 'round'});
    
    
  };
  band(c.grayTop, c.grayBot, '#aaaaaa', 'dense-nosig-points');
  dots(c.gray, '#aaaaaa', 'point-nosig');
  band(c.downTop, c.downBot, '#0091f5', 'dense-down-points');
  dots(c.down, '#0091f5', 'point-down');
  band(c.upTop, c.upBot, '#ff0000', 'dense-up-points');
  dots(c.up, '#ff0000', 'point-up');

  const top = mk(g, 'line', {x1: c.x0, x2: c.x1, y1: c.y1, y2: c.y1, stroke: '#000', 'stroke-width': 1.6});
  
  
  const right = mk(g, 'line', {x1: c.x1, x2: c.x1, y1: c.y1, y2: c.y0, stroke: '#000', 'stroke-width': 1.6});
  
  
  const left = mk(g, 'line', {x1: c.x0, x2: c.x0, y1: c.y1, y2: c.y0, stroke: '#000', 'stroke-width': 2.2});
  
  
  const bottom = mk(g, 'line', {x1: c.x0, x2: c.x1, y1: c.y0, y2: c.y0, stroke: '#000', 'stroke-width': 2.2});
  
  

  c.ticks.forEach(lbl => {
    const v = parseFloat(lbl);
    const tx = mk(g, 'line', {x1: xS(v), x2: xS(v), y1: c.y0, y2: c.y0 + 8, stroke: '#000', 'stroke-width': 1.8});
    
    
    const ty = mk(g, 'line', {x1: c.x0 - 10, x2: c.x0, y1: yS(v), y2: yS(v), stroke: '#000', 'stroke-width': 1.8});
    
    
    const lx = mk(g, 'text', {x: xS(v), y: c.y0 + 30, 'font-size': 20.5, 'text-anchor': 'middle'}, lbl);
    
    
    const ly = mk(g, 'text', {x: c.x0 - 17, y: yS(v) + 7, 'font-size': 20.5, 'text-anchor': 'end'}, lbl);
    
    
  });

  const title = mk(g, 'text', {x: c.titleX, y: c.titleY, 'font-size': 31, 'font-weight': 700, 'text-anchor': 'middle'}, c.title);
  
  
  const xt = mk(g, 'text', {x: c.xtX, y: c.xtY, 'font-size': 24, 'font-weight': 700, 'text-anchor': 'middle'}, c.xt);
  
  
  const yt = mk(g, 'text', {transform: 'translate(' + c.ytX + ' ' + c.ytY + ') rotate(-90)', 'font-size': 24, 'font-weight': 700, 'text-anchor': 'middle'}, c.yt);
  
  

  const lt = mk(g, 'text', {x: c.legX - 8, y: c.legY - 25, 'font-size': 20.5, 'font-weight': 700}, 'Significant');
  
  
  c.legend.forEach((e, i) => {
    const cy = c.legY + i * c.legStep;
    const d = mk(g, 'circle', {cx: c.legX, cy: cy, r: 11, fill: e[1]});
    
    
    const t = mk(g, 'text', {x: c.legX + 18, y: cy + 7, 'font-size': 20.5, 'font-weight': 700}, e[0]);
    
    
  });
}

/* ---------- Panel F ---------- */
function heatColor(v) {
  const t = Math.min(1, Math.abs(v) / 3);
  const c = Math.round(255 * (1 - t));
  return v >= 0 ? 'rgb(255,' + c + ',' + c + ')' : 'rgb(' + c + ',' + c + ',255)';
}
function drawHeatmap() {
  const g = document.getElementById('panelF');
  const hx0 = 2903, hx1 = 3771, hy0 = 458, hy1 = 1702.5;
  const cw = (hx1 - hx0) / heatColumns.length;
  const rh = (hy1 - hy0) / heatRows.length;
  const rowY = r => hy0 + r * rh;
  const depthX = d => 2633.5 + d * 230;
  const leafX = i => hx0 + cw * (i + 0.5);
  const treeBase = 420, treeScale = 330.6;
  const treeY = h => treeBase - h * treeScale;

  const title = mk(g, 'text', {x: 3162, y: 54, 'font-size': 34.5, 'font-weight': 700, 'text-anchor': 'middle'}, 'Heatmap(Vh_36_vs_Con_0_G)');
  
  

  heatRows.forEach((row, r) => {
    row.forEach((v, c) => {
      const cell = mk(g, 'rect', {x: hx0 + c * cw, y: rowY(r), width: cw + .4, height: rh + .4, fill: heatColor(v)});
      
      
    });
  });
  const overlay = mk(g, 'rect', {x: hx0, y: hy0, width: hx1 - hx0, height: hy1 - hy0, fill: 'url(#stripes)'});
  
  

  heatColumns.forEach((name, i) => {
    const t = mk(g, 'text', {transform: 'translate(' + (leafX(i) + 6) + ' 1722) rotate(-62)', 'font-size': 23, 'text-anchor': 'end'}, name);
    
    
  });

  columnGroups.forEach((grp, i) => {
    const b = mk(g, 'rect', {x: hx0 + i * 3 * cw, y: 420, width: 3 * cw + .4, height: 32, fill: grp[1]});
    
    
  });

  const nodes = [];
  for (let i = 0; i < heatColumns.length; i++) nodes.push({x: leafX(i), h: 0});
  columnMerges.forEach(m => {
    const a = nodes[m[0]], b = nodes[m[1]];
    const ya = treeY(a.h), yb = treeY(b.h), ym = treeY(m[2]);
    const p = mk(g, 'polyline', {points: a.x + ',' + ya + ' ' + a.x + ',' + ym + ' ' + b.x + ',' + ym + ' ' + b.x + ',' + yb, fill: 'none', stroke: '#000', 'stroke-width': 2.2});
    
    
    nodes.push({x: (a.x + b.x) / 2, h: m[2]});
  });

  rowClusters.forEach(cl => {
    const b = mk(g, 'rect', {x: 2864, y: rowY(cl[0]), width: 33, height: rowY(cl[1]) - rowY(cl[0]), fill: cl[2]});
    
    
  });

  const silhouette = rowTreeEdge.map(p => depthX(p[0]).toFixed(1) + ',' + rowY(p[1]).toFixed(1)).join(' ') + ' ' + depthX(1) + ',' + rowY(62) + ' ' + depthX(1) + ',' + rowY(0);
  const mass = mk(g, 'polygon', {points: silhouette, fill: '#000'});
  
  
  rowTreeVert.forEach(v => {
    const l = mk(g, 'line', {x1: depthX(v[0]), x2: depthX(v[0]), y1: rowY(v[1]), y2: rowY(v[2]), stroke: '#000', 'stroke-width': 2});
    
    
  });
  rowTreeHoriz.forEach(h => {
    const l = mk(g, 'line', {x1: depthX(h[0]), x2: depthX(h[1]), y1: rowY(h[2]), y2: rowY(h[2]), stroke: '#000', 'stroke-width': 2.4});
    
    
  });

  const cbar = mk(g, 'rect', {x: 3772, y: 153, width: 39, height: 193, fill: 'url(#heatGrad)'});
  
  
  const cbY = v => 259.5 - v * 28.83;
  legendTicks.forEach(v => {
    const tk = mk(g, 'line', {x1: 3811, x2: 3817, y1: cbY(v), y2: cbY(v), stroke: '#333', 'stroke-width': 1.6});
    
    
    const lb = mk(g, 'text', {x: v < 0 ? 3821 : 3822, y: cbY(v) + 8, 'font-size': 21}, String(v));
    
    
  });
}

drawBars();
drawScatter(document.getElementById('panelD'), {
  x0: 1852, x1: 2548.5, y0: 740.5, y1: 79.2, max: 6.5, ticks: ticksD,
  grayTop: bandGrayTopD, grayBot: bandGrayBotD, upTop: bandUpTopD, upBot: bandUpBotD, downTop: bandDownTopD, downBot: bandDownBotD,
  gray: pointsGrayD, up: pointsUpD, down: pointsDownD,
  title: 'Vh_36_vs_Vv_36.scatter', titleX: 2216.5, titleY: 51,
  xt: 'Log10(Vv_36_normalized + 1)', xtX: 2229, xtY: 811,
  yt: 'Log10(Vh_36_normalized + 1)', ytX: 1790, ytY: 409,
  legX: 1909, legY: 146, legStep: 32,
  legend: [['up(2445)', '#ff0000'], ['nosig(26672)', '#aaaaaa'], ['down(2334)', '#0091f5']]
});
drawScatter(document.getElementById('panelE'), {
  x0: 1839.6, x1: 2548.5, y0: 1649.6, y1: 963.2, max: 6, ticks: ticksE,
  grayTop: bandGrayTopE, grayBot: bandGrayBotE, upTop: bandUpTopE, upBot: bandUpBotE, downTop: bandDownTopE, downBot: bandDownBotE,
  gray: pointsGrayE, up: pointsUpE, down: pointsDownE,
  title: 'Vh_60_vs_Vv_60.scatter', titleX: 2217, titleY: 931,
  xt: 'Log10(Vv_60_normalized + 1)', xtX: 2204, xtY: 1718,
  yt: 'Log10(Vh_60_normalized + 1)', ytX: 1777, ytY: 1305,
  legX: 1880, legY: 1036, legStep: 33.5,
  legend: [['up(653)', '#ff0000'], ['nosig(30236)', '#aaaaaa'], ['down(562)', '#0091f5']]
});
drawHeatmap();
</script>
</body>
</html>
